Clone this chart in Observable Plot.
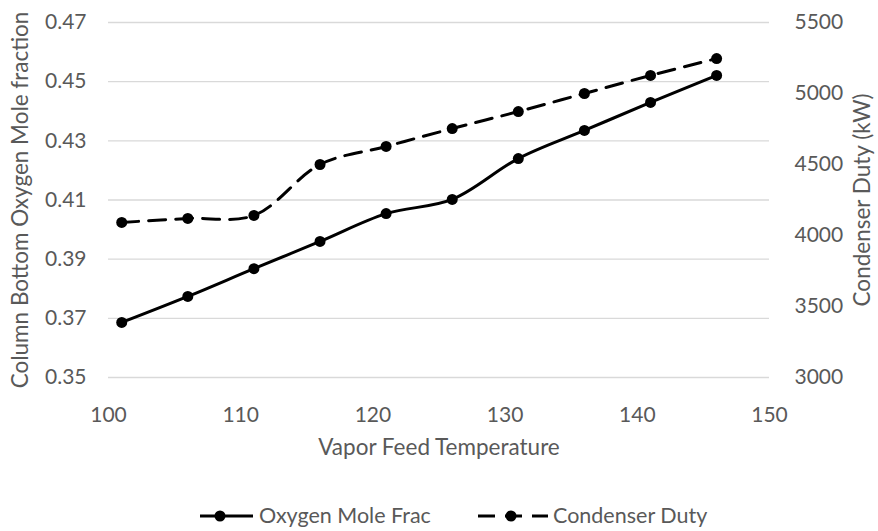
<!DOCTYPE html>
<html><head><meta charset="utf-8">
<script src="https://cdn.jsdelivr.net/npm/d3@7"></script>
<script src="https://cdn.jsdelivr.net/npm/@observablehq/plot@0.6"></script>
<style>
body{margin:0;background:#fff;font-family:Lato,sans-serif;}
#legend{position:relative;height:31px;width:878px;font-family:Lato,sans-serif;font-size:21.5px;color:#595959;}
#legend span{position:absolute;top:2px;}
</style></head><body>
<div id="chart"></div>
<div id="legend"></div>
<script>
const temperature = [101,106,111,116,121,126,131,136,141,146];
const oxygenMoleFrac = [0.3686,0.3774,0.3868,0.3960,0.4054,0.4102,0.4240,0.4335,0.4430,0.4521];
const condenserDuty = [4092,4120,4141,4500,4627,4753,4873,5000,5127,5246];
const leftTicks = [0.35,0.37,0.39,0.41,0.43,0.45,0.47];
const rightTicks = [3000,3500,4000,4500,5000,5500];
const xTicks = [100,110,120,130,140,150];
const seriesNames = ["Oxygen Mole Frac","Condenser Duty"];

const toLeft = v => 0.35 + (v - 3000) / 2500 * 0.12;
const fromLeft = y => 3000 + (y - 0.35) / 0.12 * 2500;

const data1 = temperature.map((t,i)=>({t, v: oxygenMoleFrac[i]}));
const data2 = temperature.map((t,i)=>({t, v: toLeft(condenserDuty[i])}));

const W = 878, H = 500;
const grey = "#595959";
const chart = Plot.plot({
  width: W, height: H,
  marginLeft: 108, marginRight: 109, marginTop: 22, marginBottom: H - 377,
  style: {fontFamily: "Lato, sans-serif", fontSize: "21px", color: grey, background: "#fff"},
  x: {domain: [100,150]},
  y: {domain: [0.35,0.47]},
  marks: [
    Plot.ruleY(leftTicks, {stroke: "#d9d9d9", strokeWidth: 1.3}),
    Plot.axisX({ticks: xTicks, tickSize: 0, tickPadding: 30, tickFormat: d => d, label: null, fontSize: 21}),
    Plot.text(["Vapor Feed Temperature"], {frameAnchor: "bottom", dy: 77, fontSize: 22.5, fill: grey}),
    Plot.axisY({ticks: leftTicks, tickSize: 0, tickPadding: 22, tickFormat: d => d.toFixed(2), label: null, fontSize: 21}),
    Plot.axisY({anchor: "right", ticks: rightTicks.map(toLeft), tickSize: 0, tickPadding: 25, tickFormat: d => String(Math.round(fromLeft(d))), label: null, fontSize: 21}),
    Plot.text(["Column Bottom Oxygen Mole fraction"], {frameAnchor: "left", textAnchor: "middle", rotate: -90, dx: -88, fontSize: 22.5, fill: grey}),
    Plot.text(["Condenser Duty (kW)"], {frameAnchor: "right", textAnchor: "middle", rotate: -90, dx: 93, fontSize: 22.5, fill: grey}),
    Plot.line(data2, {x: "t", y: "v", stroke: "black", strokeWidth: 3, strokeDasharray: "17,10", curve: "catmull-rom"}),
    Plot.line(data1, {x: "t", y: "v", stroke: "black", strokeWidth: 3, curve: "catmull-rom"}),
    Plot.dot(data2, {x: "t", y: "v", r: 5.5, fill: "black"}),
    Plot.dot(data1, {x: "t", y: "v", r: 5.5, fill: "black"})
  ]
});
document.getElementById("chart").appendChild(chart);

const lg = document.getElementById("legend");
lg.innerHTML = `
<svg width="878" height="31" style="position:absolute;left:0;top:0">
  <line x1="200" x2="253" y1="16" y2="16" stroke="black" stroke-width="3"/>
  <circle cx="220" cy="16" r="5.5" fill="black"/>
  <line x1="478" x2="548" y1="16" y2="16" stroke="black" stroke-width="3" stroke-dasharray="17,10"/>
  <circle cx="511" cy="16" r="5.5" fill="black"/>
</svg>
<span style="left:259px">${seriesNames[0]}</span>
<span style="left:553px">${seriesNames[1]}</span>`;
</script>
</body></html>
